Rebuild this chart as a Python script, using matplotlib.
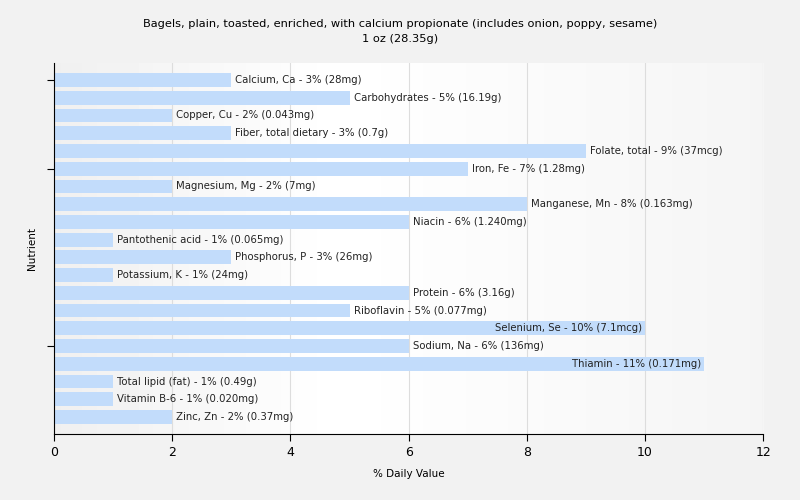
import numpy as np
import matplotlib
matplotlib.use("Agg")
import matplotlib.pyplot as plt

names = ["Calcium, Ca", "Carbohydrates", "Copper, Cu", "Fiber, total dietary", "Folate, total",
         "Iron, Fe", "Magnesium, Mg", "Manganese, Mn", "Niacin", "Pantothenic acid",
         "Phosphorus, P", "Potassium, K", "Protein", "Riboflavin", "Selenium, Se",
         "Sodium, Na", "Thiamin", "Total lipid (fat)", "Vitamin B-6", "Zinc, Zn"]
values = [3, 5, 2, 3, 9, 7, 2, 8, 6, 1, 3, 1, 6, 5, 10, 6, 11, 1, 1, 2]
amounts = ["28mg", "16.19g", "0.043mg", "0.7g", "37mcg", "1.28mg", "7mg", "0.163mg", "1.240mg",
           "0.065mg", "26mg", "24mg", "3.16g", "0.077mg", "7.1mcg", "136mg", "0.171mg",
           "0.49g", "0.020mg", "0.37mg"]

plt.rcParams["font.family"] = ["DejaVu Sans"]
fig = plt.figure(figsize=(8, 5), dpi=100, facecolor="#f2f2f2")
ax = fig.add_axes([0.0675, 0.132, 0.8865, 0.742])

# subtle background gradient of the plot area
grad = np.concatenate([np.linspace(0.94, 1.0, 40), np.linspace(1.0, 0.96, 60)])
ax.imshow(np.tile(grad, (2, 1)), cmap="gray", vmin=0, vmax=1, aspect="auto",
          extent=[0, 12, 19.96, -0.96], zorder=0)

y = np.arange(len(names))
ax.barh(y, values, height=0.78, color="#c2dcfb", zorder=2)

for i, (n, v, a) in enumerate(zip(names, values, amounts)):
    label = f"{n} - {v}% ({a})"
    if v >= 10:
        ax.text(v - 0.05, i, label, ha="right", va="center", fontsize=7.3, color="#222222", zorder=3)
    else:
        ax.text(v + 0.07, i, label, ha="left", va="center", fontsize=7.3, color="#222222", zorder=3)

ax.set_xlim(0, 12)
ax.set_ylim(19.96, -0.96)
ax.set_xticks(range(0, 13, 2))
ax.set_yticks([0, 5, 15])
ax.set_yticklabels([])
ax.grid(axis="x", color="#dddddd", linewidth=0.8, zorder=1)
ax.set_axisbelow(True)
for s in ["top", "right"]:
    ax.spines[s].set_visible(False)
ax.tick_params(axis="x", labelsize=9, length=5)
ax.tick_params(axis="y", length=5)

ax.set_xlabel("% Daily Value", fontsize=7.5, labelpad=7)
ax.set_ylabel("Nutrient", fontsize=7.5, labelpad=4)
fig.suptitle("Bagels, plain, toasted, enriched, with calcium propionate (includes onion, poppy, sesame)\n1 oz (28.35g)",
             fontsize=8.2, y=0.913, va="bottom", linespacing=1.6)

fig.savefig("out.png", dpi=100, facecolor=fig.get_facecolor())
